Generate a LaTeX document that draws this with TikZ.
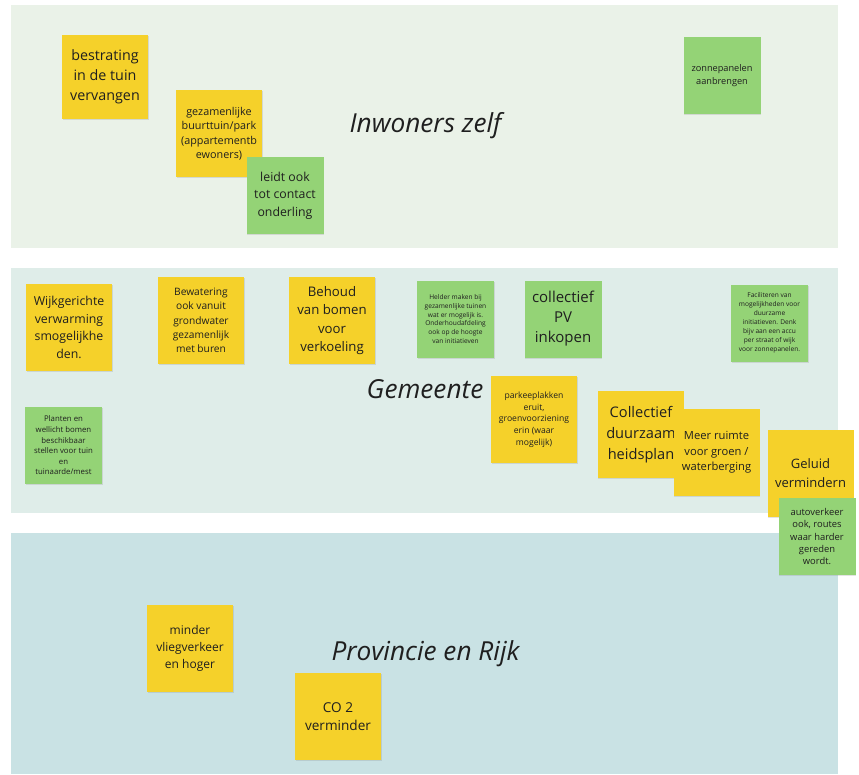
\documentclass[tikz,border=0pt]{standalone}
\usepackage{fontspec}
\setmainfont{Open Sans}
\usetikzlibrary{positioning,shadows}

\definecolor{bandtop}{HTML}{EAF2E8}
\definecolor{bandmid}{HTML}{DFEDE9}
\definecolor{bandlow}{HTML}{C9E2E4}
\definecolor{noteyellow}{HTML}{F5D12A}
\definecolor{notegreen}{HTML}{94D376}
\definecolor{ink}{HTML}{1F1F1F}

\begin{document}
\begin{tikzpicture}
		[x=1pt, y=-1pt,
		sticky/.style ={rectangle, align=center, inner sep=1pt, text=ink,
		drop shadow={shadow xshift=0.7pt, shadow yshift=-1.2pt, opacity=0.22}},
		yellow-note/.style = {sticky, fill=noteyellow, minimum width=86pt, minimum height=87pt},
		green-note/.style = {sticky, fill=notegreen, minimum width=77pt, minimum height=77pt},
		band-title/.style = {font=\itshape\fontsize{26.2}{30}\selectfont, text=ink},
		fs/.style 2 args = {font=\fontsize{#1}{#2}\selectfont},
		]
		\useasboundingbox (0,0) rectangle (859,774);

		% the three bands
		\fill[bandtop] (11,5) rectangle (838,248);
		\fill[bandmid] (11,268) rectangle (838,513);
		\fill[bandlow] (11,533) rectangle (838,774);

		\draw (425.5,126) node[band-title] (Inwoners) {Inwoners zelf};
		\draw (425,389) node[band-title] (Gemeente) {Gemeente};
		\draw (425.5,654) node[band-title] (Provincie) {Provincie en Rijk};

		% inwoners zelf
		\draw (105,77) node[yellow-note, minimum height=84pt, fs={14.3}{20}] (bestrating) {bestrating\\in de tuin\\vervangen};
		\draw (219,133.5) node[yellow-note, fs={10.8}{14.5}] (buurttuin) {gezamenlijke\\buurttuin/park\\(appartementb\\ewoners)};
		\draw (285,195.5) node[green-note, fs={12.3}{17.5}] (contact) {leidt ook\\tot contact\\onderling};
		\draw (722,75.5) node[green-note, fs={9.2}{13}] (zonnepanelen) {zonnepanelen\\aanbrengen};

		% gemeente
		\draw (69,327.5) node[yellow-note, fs={12.3}{17.6}] (verwarming) {Wijkgerichte\\verwarming\\smogelijkhe\\den.};
		\draw (201,320.5) node[yellow-note, fs={10.2}{14.2}] (bewatering) {Bewatering\\ook vanuit\\grondwater\\gezamenlijk\\met buren};
		\draw (332,320.5) node[yellow-note, fs={13.2}{18.2}] (bomen) {Behoud\\van bomen\\voor\\verkoeling};
		\draw (455.5,319) node[green-note, fs={6.6}{8.8}] (helder) {Helder maken bij\\gezamenlijke tuinen\\wat er mogelijk is.\\Onderhoudafdeling\\ook op de hoogte\\van initiatieven};
		\draw (563,319) node[green-note, fs={15}{20}] (pv) {collectief\\PV\\inkopen};
		\draw (769.5,323) node[green-note, fs={6.6}{9}] (faciliteren) {Faciliteren van\\mogelijkheden voor\\duurzame\\initiatieven. Denk\\bijv aan een accu\\per straat of wijk\\voor zonnepanelen.};
		\draw (63.5,445.5) node[green-note, fs={7.8}{10.6}] (planten) {Planten en\\wellicht bomen\\beschikbaar\\stellen voor tuin\\en\\tuinaarde/mest};
		\draw (534,419.5) node[yellow-note, fs={8.6}{11.7}] (parkeer) {parkeeplakken\\eruit,\\groenvoorziening\\erin (waar\\mogelijk)};
		\draw (640.5,434.5) node[yellow-note, fs={14.6}{21}] (duurzaam) {\hspace*{1pt}Collectief\\\hspace*{1pt}duurzaam\\\hspace*{1pt}heidsplan};
		\draw (716.5,452.5) node[yellow-note, fs={11.2}{15.5}] (ruimte) {Meer ruimte\\voor groen /\\waterberging};
		\draw (810.5,473.5) node[yellow-note, fs={13}{19}] (geluid) {Geluid\\vermindern};
		\draw (817,536.5) node[green-note, fs={9.4}{12.3}] (autoverkeer) {autoverkeer\\ook, routes\\waar harder\\gereden\\wordt.};

		% provincie en rijk
		\draw (190,648.5) node[yellow-note, fs={12}{16.8}] (vliegverkeer) {minder\\vliegverkeer\\en hoger};
		\draw (338,716.5) node[yellow-note, fs={13.6}{18.3}] (co2) {CO 2\\verminder};
	\end{tikzpicture}
\end{document}
